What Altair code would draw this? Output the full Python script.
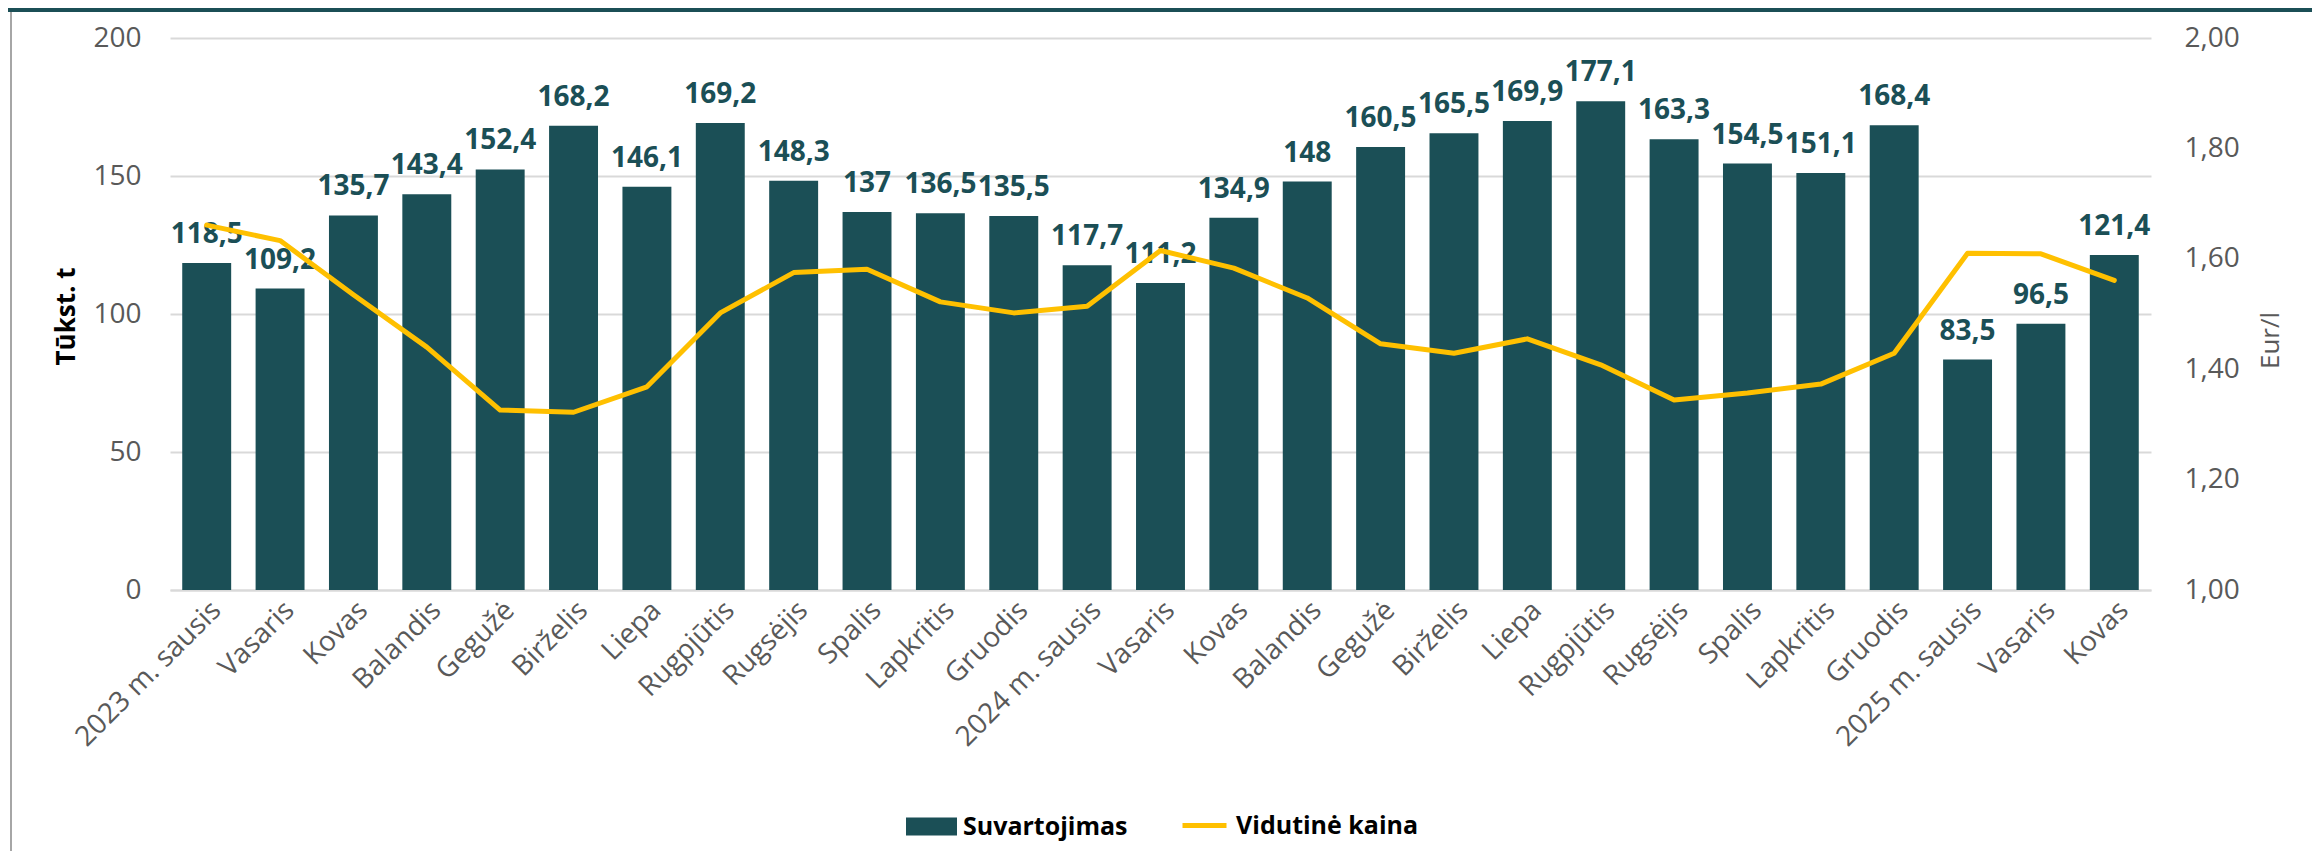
import altair as alt
import pandas as pd

labels = ["2023 m. sausis", "Vasaris", "Kovas", "Balandis", "Gegužė", "Birželis", "Liepa",
          "Rugpjūtis", "Rugsėjis", "Spalis", "Lapkritis", "Gruodis",
          "2024 m. sausis", "Vasaris", "Kovas", "Balandis", "Gegužė", "Birželis", "Liepa",
          "Rugpjūtis", "Rugsėjis", "Spalis", "Lapkritis", "Gruodis",
          "2025 m. sausis", "Vasaris", "Kovas"]
consumption = [118.5, 109.2, 135.7, 143.4, 152.4, 168.2, 146.1, 169.2, 148.3, 137, 136.5, 135.5,
               117.7, 111.2, 134.9, 148, 160.5, 165.5, 169.9, 177.1, 163.3, 154.5, 151.1, 168.4,
               83.5, 96.5, 121.4]
price = [1.661, 1.633, 1.535, 1.44, 1.326, 1.322, 1.368, 1.502, 1.575, 1.581, 1.522, 1.502,
         1.514, 1.615, 1.583, 1.529, 1.446, 1.429, 1.455, 1.408, 1.344, 1.357, 1.373, 1.429,
         1.610, 1.609, 1.561]
series = ["Suvartojimas", "Vidutinė kaina"]

TEAL = "#1B4F56"
GOLD = "#FFC000"
GRAY = "#595959"
GRID = "#D9D9D9"
FONT = "Open Sans"

df = pd.DataFrame({
    "idx": list(range(len(labels))),
    "v": consumption,
    "p": price,
    "lbl": [f"{v:g}".replace(".", ",") for v in consumption],
    "s1": series[0],
    "s2": series[1],
})

label_expr = "[" + ",".join("'" + s + "'" for s in labels) + "][datum.value]"

x = alt.X("idx:O",
          scale=alt.Scale(paddingInner=0.333, paddingOuter=0.1667),
          axis=alt.Axis(labelExpr=label_expr, labelAngle=-45, labelAlign="right",
                        labelBaseline="middle", labelPadding=16, labelOffset=10,
                        labelLimit=0, labelOverlap=False,
                        ticks=False, domain=True, domainColor=GRID, domainWidth=2,
                        labelFont=FONT, labelFontSize=28, labelColor=GRAY, title=None))

base = alt.Chart(df)

bars = base.mark_bar(color=TEAL).encode(
    x=x,
    y=alt.Y("v:Q", scale=alt.Scale(domain=[0, 200], nice=False),
            axis=alt.Axis(values=[0, 50, 100, 150, 200], grid=True, gridColor=GRID, gridWidth=2,
                          domain=False, ticks=False, labelPadding=29, labelFont=FONT,
                          labelFontSize=28, labelColor=GRAY,
                          title="Tūkst. t", titleFont=FONT, titleFontWeight="bold",
                          titleFontSize=26, titleColor="black", titleX=-104, titleY=278,
                          titleAngle=-90, titleAlign="center", titleBaseline="middle")),
    color=alt.Color("s1:N",
                    scale=alt.Scale(domain=[series[0]], range=[TEAL]),
                    legend=alt.Legend(orient="none", legendX=736, legendY=763, title=None,
                                      symbolType="M-1,-0.35H1V0.35H-1Z", symbolSize=2601,
                                      symbolStrokeWidth=0, symbolOpacity=1,
                                      labelFont=FONT, labelFontSize=25, labelLimit=0,
                                      labelFontWeight="bold", labelColor="black",
                                      labelOffset=6, padding=0)),
)

text = base.mark_text(color=TEAL, font=FONT, fontSize=28, fontWeight="bold",
                      baseline="alphabetic", dy=-20).encode(
    x=x,
    y=alt.Y("v:Q", scale=alt.Scale(domain=[0, 200], nice=False)),
    text="lbl:N",
)

left = alt.layer(bars, text)

line = base.mark_line(strokeWidth=5, strokeJoin="round", strokeCap="round").encode(
    x=x,
    y=alt.Y("p:Q", scale=alt.Scale(domain=[1, 2], nice=False),
            axis=alt.Axis(orient="right", values=[1, 1.2, 1.4, 1.6, 1.8, 2.0], grid=False,
                          domain=False, ticks=False, labelPadding=33, labelFont=FONT,
                          labelFontSize=28, labelColor=GRAY,
                          labelExpr="replace(format(datum.value, '.2f'), '.', ',')",
                          title="Eur/l", titleFont=FONT, titleFontWeight="normal",
                          titleFontSize=26, titleColor=GRAY, titleX=119, titleY=302,
                          titleAngle=-90, titleAlign="center", titleBaseline="middle")),
    stroke=alt.Stroke("s2:N",
                      scale=alt.Scale(domain=[series[1]], range=[GOLD]),
                      legend=alt.Legend(orient="none", legendX=1010, legendY=763, title=None,
                                        symbolType="stroke", symbolSize=1936,
                                        symbolStrokeWidth=5, labelFont=FONT, labelFontSize=25,
                                        labelLimit=0,
                                        labelFontWeight="bold", labelColor="black",
                                        labelOffset=7, padding=0)),
)

top_rule = alt.Chart(df).mark_rule(color=TEAL, strokeWidth=4).encode(
    x=alt.value(-162), x2=alt.value(2304 - 162), y=alt.value(-28))
left_rule = alt.Chart(df).mark_rule(color="#A6A6A6", strokeWidth=2).encode(
    x=alt.value(-159), y=alt.value(-26), y2=alt.value(843 - 30))

chart = alt.layer(left, line, top_rule, left_rule).resolve_scale(
    y="independent"
).properties(
    width=1981, height=552, autosize="none",
    padding={"left": 162, "top": 30, "right": 161, "bottom": 261},
).configure_view(stroke=None)

chart.save("out.html", embed_options={"renderer": "svg", "actions": False})
